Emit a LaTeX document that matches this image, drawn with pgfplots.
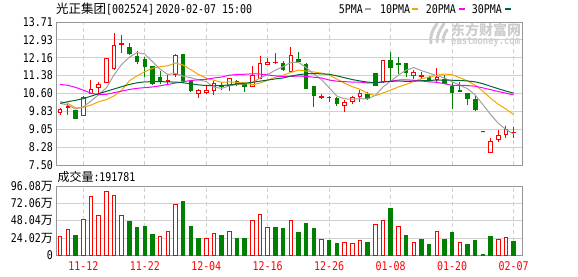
\documentclass[border=0pt]{standalone}
\usepackage{fontspec}
\setmainfont[FakeStretch=0.83]{DejaVu Sans Mono}
\newfontfamily\cjk{Noto Sans CJK SC}
\usepackage{pgfplots}
\pgfplotsset{compat=1.18}
\usepackage{pgfplotstable}
\usepgfplotslibrary{statistics}
\definecolor{kred}{RGB}{255,0,0}
\definecolor{kgreen}{RGB}{0,128,0}
\definecolor{ma5}{RGB}{160,160,160}
\definecolor{ma10}{RGB}{245,165,0}
\definecolor{ma20}{RGB}{255,0,255}
\definecolor{ma30}{RGB}{0,102,51}
\definecolor{framec}{RGB}{150,150,150}
\definecolor{gridc}{RGB}{208,208,208}
\definecolor{wm}{RGB}{205,205,205}
\newcommand\fs{\fontsize{12}{14}\selectfont}

\pgfplotstableread{
i o h l c up
0 9.80 9.97 9.65 9.90 1
1 10.01 10.13 9.65 10.05 1
2 9.85 9.85 9.48 9.52 0
3 9.65 10.48 9.65 10.43 1
4 10.59 11.20 10.59 10.79 1
5 10.88 11.11 10.59 11.01 1
6 11.10 12.11 11.10 12.11 1
7 11.67 13.23 11.63 12.70 1
8 12.73 13.15 12.35 12.76 1
9 12.61 12.79 12.31 12.34 0
10 12.21 12.45 11.88 12.01 0
11 12.09 12.20 11.30 11.78 0
12 11.79 11.80 10.98 11.05 0
13 11.28 11.59 11.01 11.14 0
14 11.12 11.45 11.01 11.15 1
15 11.41 12.30 11.31 12.27 1
16 12.30 12.32 11.05 11.15 0
17 11.12 11.20 10.68 10.72 0
18 10.62 10.79 10.43 10.72 1
19 10.65 10.91 10.59 10.75 1
20 10.75 11.15 10.56 11.05 1
21 10.95 11.10 10.76 10.91 0
22 10.95 11.27 10.71 11.24 1
23 11.12 11.20 10.91 10.98 0
24 11.02 11.02 10.65 10.91 0
25 10.91 11.80 10.91 11.37 1
26 11.27 12.24 11.23 11.92 1
27 11.88 12.14 11.85 11.96 1
28 11.93 12.35 11.88 11.96 1
29 11.92 12.01 11.60 11.66 0
30 11.56 12.61 11.49 12.24 1
31 12.06 12.40 11.96 11.99 0
32 11.88 11.92 10.82 10.82 0
33 10.89 10.89 10.04 10.52 0
34 10.45 10.59 10.36 10.49 1
35 10.45 10.50 10.22 10.42 0
36 10.38 10.45 10.07 10.19 0
37 10.09 10.33 9.78 10.23 1
38 10.27 10.48 10.16 10.45 1
39 10.48 10.74 10.25 10.59 1
40 10.55 10.69 10.33 10.40 0
41 11.46 11.49 10.94 10.97 0
42 11.12 12.02 11.10 12.02 1
43 12.02 12.41 11.12 11.73 0
44 11.90 12.19 11.44 11.88 0
45 11.89 11.89 11.34 11.52 0
46 11.37 11.63 11.25 11.50 1
47 11.34 11.52 11.23 11.37 1
48 11.30 11.37 11.11 11.18 0
49 11.20 11.73 11.12 11.31 1
50 11.20 11.41 11.04 11.04 0
51 10.91 11.12 9.93 10.65 0
52 10.72 11.12 10.68 10.68 0
53 10.62 10.62 10.11 10.39 0
54 10.36 10.50 9.83 9.93 0
55 8.94 8.94 8.94 8.94 0
56 8.05 8.67 8.05 8.53 1
57 8.60 9.03 8.50 8.77 1
58 8.84 9.20 8.67 9.03 1
59 8.90 9.13 8.67 8.93 1
}\candles

\pgfplotstableread{
i m5 m10 m20 m30
0 10.18 10.25 11.00 10.18
1 10.10 10.18 10.96 10.25
2 9.93 9.98 10.87 10.31
3 10.03 10.00 10.75 10.38
4 10.28 10.10 10.62 10.49
5 10.55 10.25 10.55 10.60
6 10.85 10.34 10.57 10.70
7 11.41 10.50 10.64 10.80
8 11.87 10.75 10.71 10.90
9 12.18 11.16 10.78 11.00
10 12.38 11.37 10.83 11.07
11 12.32 11.55 10.86 11.11
12 11.99 11.70 10.89 11.12
13 11.66 11.77 10.94 11.12
14 11.43 11.81 11.00 11.11
15 11.48 11.93 11.06 11.10
16 11.35 11.84 11.12 11.07
17 11.29 11.64 11.17 11.03
18 11.20 11.43 11.20 10.98
19 11.12 11.27 11.22 10.95
20 10.88 11.18 11.28 10.94
21 10.83 11.09 11.32 10.95
22 10.93 11.11 11.40 10.98
23 10.99 11.09 11.43 11.02
24 11.02 11.07 11.44 11.05
25 11.08 10.98 11.46 11.09
26 11.28 11.06 11.45 11.14
27 11.43 11.18 11.41 11.19
28 11.62 11.31 11.37 11.24
29 11.77 11.40 11.34 11.28
30 11.95 11.52 11.35 11.36
31 11.96 11.62 11.36 11.42
32 11.73 11.58 11.35 11.46
33 11.45 11.54 11.31 11.47
34 11.21 11.49 11.28 11.46
35 10.85 11.40 11.19 11.44
36 10.49 11.23 11.14 11.37
37 10.37 11.05 11.12 11.29
38 10.36 10.90 11.10 11.21
39 10.38 10.79 11.10 11.15
40 10.37 10.61 11.06 11.10
41 10.53 10.51 11.07 11.07
42 10.89 10.63 11.10 11.11
43 11.14 10.75 11.14 11.13
44 11.40 10.89 11.19 11.15
45 11.62 11.00 11.20 11.13
46 11.73 11.13 11.18 11.14
47 11.60 11.24 11.15 11.16
48 11.49 11.32 11.11 11.17
49 11.38 11.39 11.09 11.19
50 11.28 11.45 11.03 11.19
51 11.11 11.42 10.96 11.18
52 10.97 11.29 10.96 11.17
53 10.81 11.15 10.95 11.15
54 10.54 10.96 10.92 11.11
55 10.12 10.70 10.85 11.03
56 9.69 10.40 10.77 10.92
57 9.31 10.14 10.69 10.81
58 9.04 9.93 10.62 10.71
59 8.84 9.69 10.54 10.62
}\matable

\pgfplotstableread{
i v
0 26.5
1 36.2
3 50.1
4 82.1
5 55.7
6 89.1
7 83.5
8 55.7
13 26.5
14 33.4
15 71.0
19 23.7
20 30.6
22 33.9
25 49.2
26 57.1
27 39.4
30 49.2
34 22.3
37 18.1
38 16.7
39 20.9
41 43.2
42 48.7
44 40.4
46 18.1
49 33.4
52 18.1
57 22.3
58 25.1
}\volred

\pgfplotstableread{
i v
2 27.8
9 47.8
10 39.4
11 40.8
12 29.2
16 74.3
17 40.8
18 24.1
21 28.3
23 24.1
24 24.1
28 39.4
29 38.1
31 32.5
32 45.0
33 38.1
35 21.3
36 17.2
40 18.6
43 65.9
45 28.3
47 22.7
48 15.8
50 22.7
51 32.5
53 15.8
54 21.3
55 1.4
56 26.9
59 19.18
}\volgreen

\pgfplotsset{kaxis/.style={
  scale only axis, width=466.5pt,
  xmin=-0.55, xmax=60.15,
  axis line style={draw=framec, line width=1pt},
  major tick length=0pt,
  tick style={draw=none},
  xtick={3,11,19,27,35,43,51,59},
  ymajorgrids, xmajorgrids,
  y grid style={gridc, line width=1pt},
  x grid style={gridc, line width=1pt, dash pattern=on 4pt off 3pt},
  /pgf/number format/assume math mode=true,
  yticklabel style={anchor=east, inner sep=0pt, xshift=-3pt, font=\fs, text=black},
}}

\begin{document}
\begin{tikzpicture}

\begin{axis}[kaxis, name=upper, at={(56pt,111pt)}, anchor=south west, height=143pt,
  ymin=7.5, ymax=13.71,
  ytick={7.5,8.27625,9.0525,9.82875,10.605,11.38125,12.1575,12.93375,13.71},
  yticklabels={7.50,8.28,9.05,9.83,10.60,11.38,12.16,12.93,13.71},
  xticklabels={}]
\pgfplotsforeachungrouped \kk in {0,...,59}{%
  \pgfplotstablegetelem{\kk}{o}\of\candles \let\vO\pgfplotsretval
  \pgfplotstablegetelem{\kk}{h}\of\candles \let\vH\pgfplotsretval
  \pgfplotstablegetelem{\kk}{l}\of\candles \let\vL\pgfplotsretval
  \pgfplotstablegetelem{\kk}{c}\of\candles \let\vC\pgfplotsretval
  \pgfplotstablegetelem{\kk}{up}\of\candles \let\vU\pgfplotsretval
  \pgfmathsetmacro\vLo{min(\vO,\vC)}%
  \pgfmathsetmacro\vHi{max(\vO,\vC)}%
  \ifnum\vU=1 \def\cstyle{draw=kred,fill=white}\else\def\cstyle{draw=kgreen,fill=kgreen}\fi
  \edef\candletemp{\noexpand\addplot[forget plot, solid, line width=1pt, \cstyle,
    boxplot/draw direction=y,
    boxplot prepared={draw position=\kk, lower whisker=\vL, lower quartile=\vLo,
      median=\vHi, upper quartile=\vHi, upper whisker=\vH, box extend=0.46, whisker extend=0}]
    coordinates {};}%
  \candletemp
}
\addplot[ma5, line width=1pt, no marks] table[x=i, y=m5]{\matable};
\addplot[ma10, line width=1pt, no marks] table[x=i, y=m10]{\matable};
\addplot[ma20, line width=1pt, no marks] table[x=i, y=m20]{\matable};
\addplot[ma30, line width=1pt, no marks] table[x=i, y=m30]{\matable};
\end{axis}

\begin{axis}[kaxis, name=lower, at={(56pt,20.6pt)}, anchor=south west, height=69.1pt,
  ymin=0, ymax=96.08,
  ytick={0,24.02,48.04,72.06,96.08},
  yticklabels={0,24.02{\cjk\fontsize{12}{14}\selectfont 万},48.04{\cjk\fontsize{12}{14}\selectfont 万},72.06{\cjk\fontsize{12}{14}\selectfont 万},96.08{\cjk\fontsize{12}{14}\selectfont 万}},
  xticklabels={11-12,11-22,12-04,12-16,12-26,01-08,01-20,02-07},
  xticklabel style={anchor=center, inner sep=0pt, yshift=-10.8pt, font=\fs, text=kred}]
\addplot[ybar, bar width=3.5pt, bar shift=0pt, draw=kred, fill=white, line width=1pt] table[x=i, y=v]{\volred};
\addplot[ybar, bar width=3.5pt, bar shift=0pt, draw=kgreen, fill=kgreen, line width=1pt] table[x=i, y=v]{\volgreen};
\end{axis}

% title
\node[anchor=base west, inner sep=0pt] at (56pt,262.7pt)
  {{\cjk\fontsize{12.5}{14}\selectfont 光正集团}\fs[002524]\kern2pt 2020-02-07 15:00};
% legend
\node[anchor=base west, inner sep=0pt] at (338.7pt,262.7pt) {\fs 5PMA};
\node[anchor=base west, inner sep=0pt] at (380pt,262.7pt) {\fs 10PMA};
\node[anchor=base west, inner sep=0pt] at (425.7pt,262.7pt) {\fs 20PMA};
\node[anchor=base west, inner sep=0pt] at (471.7pt,262.7pt) {\fs 30PMA};
\node[anchor=south west, inner sep=0pt] at (365pt,265.3pt) {\textcolor{ma5}{\rule{6pt}{2.6pt}}};
\node[anchor=south west, inner sep=0pt] at (412pt,265.3pt) {\textcolor{ma10}{\rule{6pt}{2.6pt}}};
\node[anchor=south west, inner sep=0pt] at (459pt,265.3pt) {\textcolor{ma20}{\rule{6pt}{2.6pt}}};
\node[anchor=south west, inner sep=0pt] at (505pt,265.3pt) {\textcolor{ma30}{\rule{6pt}{2.6pt}}};
% volume caption
\node[anchor=base west, inner sep=0pt] at (57.3pt,94.3pt)
  {{\cjk\fontsize{12}{14}\selectfont 成交量}\fs:191781};
% watermark
\node[anchor=west, inner sep=0pt, text=wm] at (451pt,245.5pt) {\cjk\bfseries\fontsize{14}{16}\selectfont 东方财富网};
\node[anchor=west, inner sep=0pt, text=wm] at (451pt,234.5pt) {\bfseries\fontsize{10.6}{12}\selectfont eastmoney.com};
\begin{scope}[wm, line width=3pt, line cap=round]
\draw (437pt,252pt) .. controls (432pt,246pt) and (430pt,240pt) .. (431pt,233pt);
\draw (444pt,252pt) .. controls (439pt,246pt) and (437pt,240pt) .. (437pt,234pt);
\draw (447pt,246pt) .. controls (444pt,242pt) and (443pt,238pt) .. (443pt,234pt);
\end{scope}
\pgfresetboundingbox
\path[use as bounding box] (0pt,0pt) rectangle (578pt,276pt);
\end{tikzpicture}
\end{document}
